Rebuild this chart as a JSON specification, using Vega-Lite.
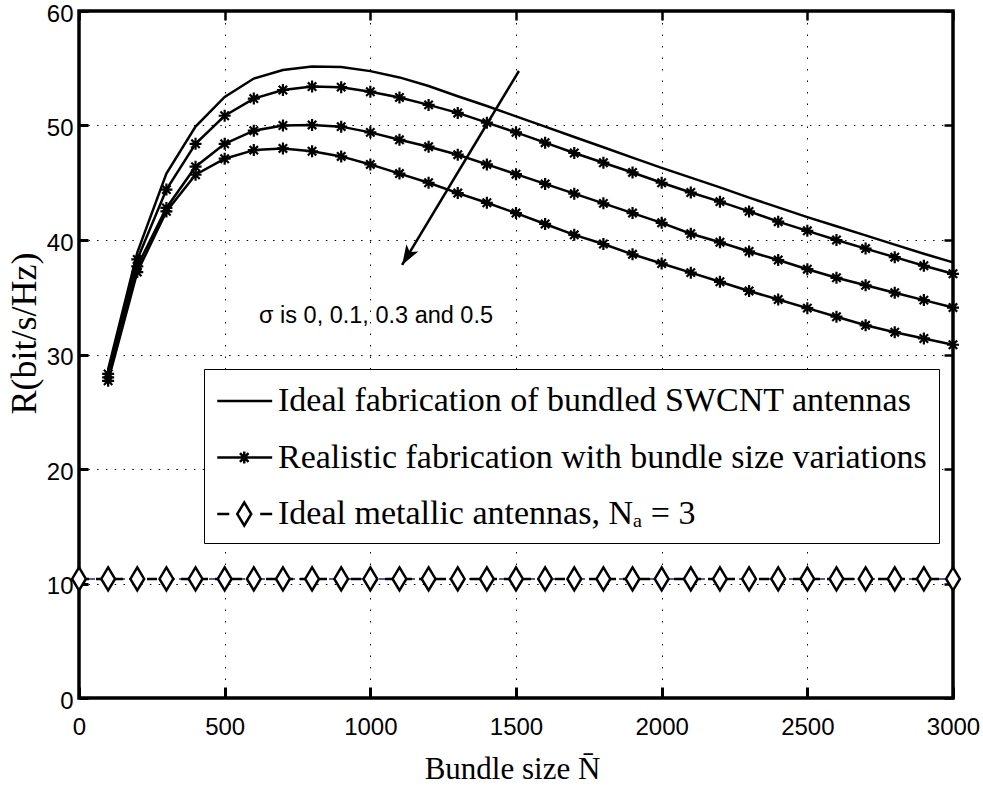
{
  "$schema": "https://vega.github.io/schema/vega-lite/v6.json",
  "width": 874,
  "height": 687,
  "autosize": "none",
  "padding": {"left": 79, "top": 11, "right": 30, "bottom": 89},
  "background": "white",
  "config": {"view": {"stroke": "black", "strokeWidth": 3.5}},
  "datasets": {
    "ideal": [
      {"N": 100, "R": 28.7}, {"N": 200, "R": 38.9}, {"N": 300, "R": 45.8}, {"N": 400, "R": 49.9},
      {"N": 500, "R": 52.5}, {"N": 600, "R": 54.1}, {"N": 700, "R": 54.85}, {"N": 800, "R": 55.15},
      {"N": 900, "R": 55.1}, {"N": 1000, "R": 54.75}, {"N": 1100, "R": 54.2}, {"N": 1200, "R": 53.45},
      {"N": 1300, "R": 52.55}, {"N": 1400, "R": 51.7}, {"N": 1500, "R": 50.8}, {"N": 1600, "R": 49.9},
      {"N": 1700, "R": 49.0}, {"N": 1800, "R": 48.1}, {"N": 1900, "R": 47.2}, {"N": 2000, "R": 46.3},
      {"N": 2100, "R": 45.45}, {"N": 2200, "R": 44.6}, {"N": 2300, "R": 43.7}, {"N": 2400, "R": 42.85},
      {"N": 2500, "R": 42.0}, {"N": 2600, "R": 41.2}, {"N": 2700, "R": 40.4}, {"N": 2800, "R": 39.6},
      {"N": 2900, "R": 38.8}, {"N": 3000, "R": 38.05}
    ],
    "real": [
      {"sigma": "0.1", "N": 100, "R": 28.3}, {"sigma": "0.1", "N": 200, "R": 38.3}, {"sigma": "0.1", "N": 300, "R": 44.4},
      {"sigma": "0.1", "N": 400, "R": 48.4}, {"sigma": "0.1", "N": 500, "R": 50.85}, {"sigma": "0.1", "N": 600, "R": 52.35},
      {"sigma": "0.1", "N": 700, "R": 53.1}, {"sigma": "0.1", "N": 800, "R": 53.4}, {"sigma": "0.1", "N": 900, "R": 53.35},
      {"sigma": "0.1", "N": 1000, "R": 52.95}, {"sigma": "0.1", "N": 1100, "R": 52.45}, {"sigma": "0.1", "N": 1200, "R": 51.8},
      {"sigma": "0.1", "N": 1300, "R": 51.1}, {"sigma": "0.1", "N": 1400, "R": 50.25}, {"sigma": "0.1", "N": 1500, "R": 49.4},
      {"sigma": "0.1", "N": 1600, "R": 48.5}, {"sigma": "0.1", "N": 1700, "R": 47.6}, {"sigma": "0.1", "N": 1800, "R": 46.75},
      {"sigma": "0.1", "N": 1900, "R": 45.9}, {"sigma": "0.1", "N": 2000, "R": 45.0}, {"sigma": "0.1", "N": 2100, "R": 44.15},
      {"sigma": "0.1", "N": 2200, "R": 43.35}, {"sigma": "0.1", "N": 2300, "R": 42.5}, {"sigma": "0.1", "N": 2400, "R": 41.6},
      {"sigma": "0.1", "N": 2500, "R": 40.8}, {"sigma": "0.1", "N": 2600, "R": 40.0}, {"sigma": "0.1", "N": 2700, "R": 39.25},
      {"sigma": "0.1", "N": 2800, "R": 38.5}, {"sigma": "0.1", "N": 2900, "R": 37.75}, {"sigma": "0.1", "N": 3000, "R": 37.05},
      {"sigma": "0.3", "N": 100, "R": 28.0}, {"sigma": "0.3", "N": 200, "R": 37.7}, {"sigma": "0.3", "N": 300, "R": 42.8},
      {"sigma": "0.3", "N": 400, "R": 46.4}, {"sigma": "0.3", "N": 500, "R": 48.4}, {"sigma": "0.3", "N": 600, "R": 49.55},
      {"sigma": "0.3", "N": 700, "R": 50.0}, {"sigma": "0.3", "N": 800, "R": 50.05}, {"sigma": "0.3", "N": 900, "R": 49.9},
      {"sigma": "0.3", "N": 1000, "R": 49.4}, {"sigma": "0.3", "N": 1100, "R": 48.75}, {"sigma": "0.3", "N": 1200, "R": 48.15},
      {"sigma": "0.3", "N": 1300, "R": 47.45}, {"sigma": "0.3", "N": 1400, "R": 46.6}, {"sigma": "0.3", "N": 1500, "R": 45.75},
      {"sigma": "0.3", "N": 1600, "R": 44.9}, {"sigma": "0.3", "N": 1700, "R": 44.05}, {"sigma": "0.3", "N": 1800, "R": 43.2},
      {"sigma": "0.3", "N": 1900, "R": 42.35}, {"sigma": "0.3", "N": 2000, "R": 41.5}, {"sigma": "0.3", "N": 2100, "R": 40.55},
      {"sigma": "0.3", "N": 2200, "R": 39.8}, {"sigma": "0.3", "N": 2300, "R": 39.0}, {"sigma": "0.3", "N": 2400, "R": 38.25},
      {"sigma": "0.3", "N": 2500, "R": 37.45}, {"sigma": "0.3", "N": 2600, "R": 36.7}, {"sigma": "0.3", "N": 2700, "R": 36.05},
      {"sigma": "0.3", "N": 2800, "R": 35.4}, {"sigma": "0.3", "N": 2900, "R": 34.75}, {"sigma": "0.3", "N": 3000, "R": 34.1},
      {"sigma": "0.5", "N": 100, "R": 27.7}, {"sigma": "0.5", "N": 200, "R": 37.2}, {"sigma": "0.5", "N": 300, "R": 42.5},
      {"sigma": "0.5", "N": 400, "R": 45.7}, {"sigma": "0.5", "N": 500, "R": 47.1}, {"sigma": "0.5", "N": 600, "R": 47.85},
      {"sigma": "0.5", "N": 700, "R": 48.0}, {"sigma": "0.5", "N": 800, "R": 47.75}, {"sigma": "0.5", "N": 900, "R": 47.3},
      {"sigma": "0.5", "N": 1000, "R": 46.6}, {"sigma": "0.5", "N": 1100, "R": 45.8}, {"sigma": "0.5", "N": 1200, "R": 45.0},
      {"sigma": "0.5", "N": 1300, "R": 44.1}, {"sigma": "0.5", "N": 1400, "R": 43.25}, {"sigma": "0.5", "N": 1500, "R": 42.35},
      {"sigma": "0.5", "N": 1600, "R": 41.4}, {"sigma": "0.5", "N": 1700, "R": 40.45}, {"sigma": "0.5", "N": 1800, "R": 39.65},
      {"sigma": "0.5", "N": 1900, "R": 38.75}, {"sigma": "0.5", "N": 2000, "R": 37.95}, {"sigma": "0.5", "N": 2100, "R": 37.15},
      {"sigma": "0.5", "N": 2200, "R": 36.35}, {"sigma": "0.5", "N": 2300, "R": 35.55}, {"sigma": "0.5", "N": 2400, "R": 34.8},
      {"sigma": "0.5", "N": 2500, "R": 34.05}, {"sigma": "0.5", "N": 2600, "R": 33.3}, {"sigma": "0.5", "N": 2700, "R": 32.55},
      {"sigma": "0.5", "N": 2800, "R": 31.95}, {"sigma": "0.5", "N": 2900, "R": 31.4}, {"sigma": "0.5", "N": 3000, "R": 30.85}
    ],
    "metal": [
      {"N": 0, "R": 10.4}, {"N": 100, "R": 10.4}, {"N": 200, "R": 10.4}, {"N": 300, "R": 10.4}, {"N": 400, "R": 10.4},
      {"N": 500, "R": 10.4}, {"N": 600, "R": 10.4}, {"N": 700, "R": 10.4}, {"N": 800, "R": 10.4}, {"N": 900, "R": 10.4},
      {"N": 1000, "R": 10.4}, {"N": 1100, "R": 10.4}, {"N": 1200, "R": 10.4}, {"N": 1300, "R": 10.4}, {"N": 1400, "R": 10.4},
      {"N": 1500, "R": 10.4}, {"N": 1600, "R": 10.4}, {"N": 1700, "R": 10.4}, {"N": 1800, "R": 10.4}, {"N": 1900, "R": 10.4},
      {"N": 2000, "R": 10.4}, {"N": 2100, "R": 10.4}, {"N": 2200, "R": 10.4}, {"N": 2300, "R": 10.4}, {"N": 2400, "R": 10.4},
      {"N": 2500, "R": 10.4}, {"N": 2600, "R": 10.4}, {"N": 2700, "R": 10.4}, {"N": 2800, "R": 10.4}, {"N": 2900, "R": 10.4},
      {"N": 3000, "R": 10.4}
    ],
    "arrow": [{"N": 1510, "R": 54.76, "N2": 1109, "R2": 37.82}],
    "note": [{"N": 618, "R": 32.75, "label": "σ is 0, 0.1, 0.3 and 0.5"}],
    "legend": [
      {"kind": "Ideal fabrication of bundled SWCNT antennas"},
      {"kind": "Realistic fabrication with bundle size variations"},
      {"kind": "Ideal metallic antennas, Nₐ = 3"}
    ]
  },
  "resolve": {"axis": {"x": "independent", "y": "independent"}},
  "layer": [
    {
      "data": {"name": "ideal"},
      "mark": {"type": "line", "color": "black", "strokeWidth": 2.5},
      "encoding": {
        "x": {"field": "N", "type": "quantitative", "scale": {"domain": [0, 3000], "nice": false, "zero": false},
          "axis": {"orient": "bottom", "values": [0, 500, 1000, 1500, 2000, 2500, 3000], "format": "d", "grid": true, "gridColor": "black", "gridDash": [1.5, 10], "gridWidth": 1, "gridOpacity": 1,
            "domain": false, "ticks": true, "tickSize": -11, "tickWidth": 3, "tickColor": "black",
            "labelFont": "Liberation Sans", "labelFontSize": 24, "labelColor": "black", "labelPadding": 28, "labelFlush": false, "labelOverlap": false,
            "title": "Bundle size N̄", "titleFont": "Liberation Serif", "titleFontSize": 31, "titleFontWeight": "normal", "titleColor": "black",
            "titleX": 433, "titleY": 80, "titleBaseline": "alphabetic", "titleAlign": "center"}},
        "y": {"field": "R", "type": "quantitative", "scale": {"domain": [0, 60], "nice": false},
          "axis": {"orient": "left", "values": [0, 10, 20, 30, 40, 50, 60], "format": "d", "grid": true, "gridColor": "black", "gridDash": [1.5, 7.3], "gridWidth": 1, "gridOpacity": 1,
            "domain": false, "ticks": true, "tickSize": -9, "tickWidth": 3, "tickColor": "black",
            "labelFont": "Liberation Sans", "labelFontSize": 24, "labelColor": "black", "labelPadding": 15, "labelOffset": 3, "labelFlush": false, "labelOverlap": false,
            "title": "R(bit/s/Hz)", "titleFont": "Liberation Serif", "titleFontSize": 36, "titleFontWeight": "normal", "titleColor": "black",
            "titleX": -44, "titleY": 322, "titleAngle": 270, "titleBaseline": "alphabetic", "titleAlign": "center"}}
      }
    },
    {
      "data": {"name": "real"},
      "mark": {"type": "line", "color": "black", "strokeWidth": 2.5},
      "encoding": {
        "x": {"field": "N", "type": "quantitative", "scale": {"domain": [0, 3000], "nice": false, "zero": false},
          "axis": {"orient": "top", "values": [0, 500, 1000, 1500, 2000, 2500, 3000], "labels": false, "title": null, "grid": false, "domain": false,
            "ticks": true, "tickSize": -9, "tickWidth": 2.5, "tickColor": "black"}},
        "y": {"field": "R", "type": "quantitative", "scale": {"domain": [0, 60], "nice": false},
          "axis": {"orient": "right", "values": [0, 10, 20, 30, 40, 50, 60], "labels": false, "title": null, "grid": false, "domain": false,
            "ticks": true, "tickSize": -9, "tickWidth": 2.5, "tickColor": "black"}},
        "detail": {"field": "sigma", "type": "nominal"}
      }
    },
    {
      "data": {"name": "real"},
      "mark": {"type": "point", "shape": "M0,-1V1M-1,0H1M-0.7,-0.7L0.7,0.7M-0.7,0.7L0.7,-0.7", "size": 144, "filled": false, "stroke": "black", "strokeWidth": 2.2, "opacity": 1},
      "encoding": {
        "x": {"field": "N", "type": "quantitative", "scale": {"domain": [0, 3000], "nice": false, "zero": false}, "axis": null},
        "y": {"field": "R", "type": "quantitative", "scale": {"domain": [0, 60], "nice": false}, "axis": null}
      }
    },
    {
      "data": {"name": "metal"},
      "mark": {"type": "line", "color": "#1f1f8f", "strokeWidth": 1.5, "strokeDash": [6, 4]},
      "encoding": {
        "x": {"field": "N", "type": "quantitative", "scale": {"domain": [0, 3000], "nice": false, "zero": false}, "axis": null},
        "y": {"field": "R", "type": "quantitative", "scale": {"domain": [0, 60], "nice": false}, "axis": null}
      }
    },
    {
      "data": {"name": "metal"},
      "mark": {"type": "line", "color": "black", "strokeWidth": 2.5, "strokeDash": [10, 7]},
      "encoding": {
        "x": {"field": "N", "type": "quantitative", "scale": {"domain": [0, 3000], "nice": false, "zero": false}, "axis": null},
        "y": {"field": "R", "type": "quantitative", "scale": {"domain": [0, 60], "nice": false}, "axis": null}
      }
    },
    {
      "data": {"name": "metal"},
      "mark": {"type": "point", "shape": "M0,-1L0.6,0L0,1L-0.6,0Z", "size": 529, "filled": true, "fill": "white", "stroke": "black", "strokeWidth": 2.5, "opacity": 1, "fillOpacity": 1},
      "encoding": {
        "x": {"field": "N", "type": "quantitative", "scale": {"domain": [0, 3000], "nice": false, "zero": false}, "axis": null},
        "y": {"field": "R", "type": "quantitative", "scale": {"domain": [0, 60], "nice": false}, "axis": null}
      }
    },
    {
      "data": {"name": "arrow"},
      "mark": {"type": "rule", "color": "black", "strokeWidth": 2.5},
      "encoding": {
        "x": {"field": "N", "type": "quantitative", "scale": {"domain": [0, 3000], "nice": false, "zero": false}, "axis": null},
        "y": {"field": "R", "type": "quantitative", "scale": {"domain": [0, 60], "nice": false}, "axis": null},
        "x2": {"field": "N2"},
        "y2": {"field": "R2"}
      }
    },
    {
      "data": {"name": "arrow"},
      "mark": {"type": "point", "shape": "M0,0L0.7,2L0,1.5L-0.7,2Z", "size": 400, "filled": true, "color": "black", "angle": 211, "opacity": 1},
      "encoding": {
        "x": {"field": "N2", "type": "quantitative", "scale": {"domain": [0, 3000], "nice": false, "zero": false}, "axis": null},
        "y": {"field": "R2", "type": "quantitative", "scale": {"domain": [0, 60], "nice": false}, "axis": null}
      }
    },
    {
      "data": {"name": "note"},
      "mark": {"type": "text", "align": "left", "baseline": "alphabetic", "font": "Liberation Sans", "fontSize": 23.5, "color": "black"},
      "encoding": {
        "x": {"field": "N", "type": "quantitative", "scale": {"domain": [0, 3000], "nice": false, "zero": false}, "axis": null},
        "y": {"field": "R", "type": "quantitative", "scale": {"domain": [0, 60], "nice": false}, "axis": null},
        "text": {"field": "label"}
      }
    },
    {
      "data": {"name": "legend"},
      "transform": [{"filter": "false"}],
      "mark": {"type": "point", "filled": false, "color": "black", "strokeWidth": 2.5, "opacity": 1},
      "encoding": {
        "shape": {"field": "kind", "type": "nominal",
          "scale": {"domain": ["Ideal fabrication of bundled SWCNT antennas", "Realistic fabrication with bundle size variations", "Ideal metallic antennas, Nₐ = 3"],
            "range": ["M-1,0H1.93", "M-1,0H1.93M0.44,-0.32V0.32M0.12,0H0.76M0.21,-0.23L0.67,0.23M0.21,0.23L0.67,-0.23", "M-1,0H-0.36M1.29,0H1.93M0.44,-0.613L0.813,0L0.44,0.613L0.067,0Z"]},
          "legend": {"title": null, "orient": "none", "legendX": 125, "legendY": 358, "direction": "vertical",
            "strokeColor": "black", "fillColor": "white", "padding": 12, "rowPadding": 19.5,
            "labelFont": "Liberation Serif", "labelFontSize": 34, "labelColor": "black", "labelLimit": 900, "labelOffset": 22,
            "symbolSize": 1406, "symbolStrokeWidth": 2.5, "symbolStrokeColor": "black", "symbolFillColor": "transparent", "symbolOpacity": 1}}
      }
    }
  ]
}
